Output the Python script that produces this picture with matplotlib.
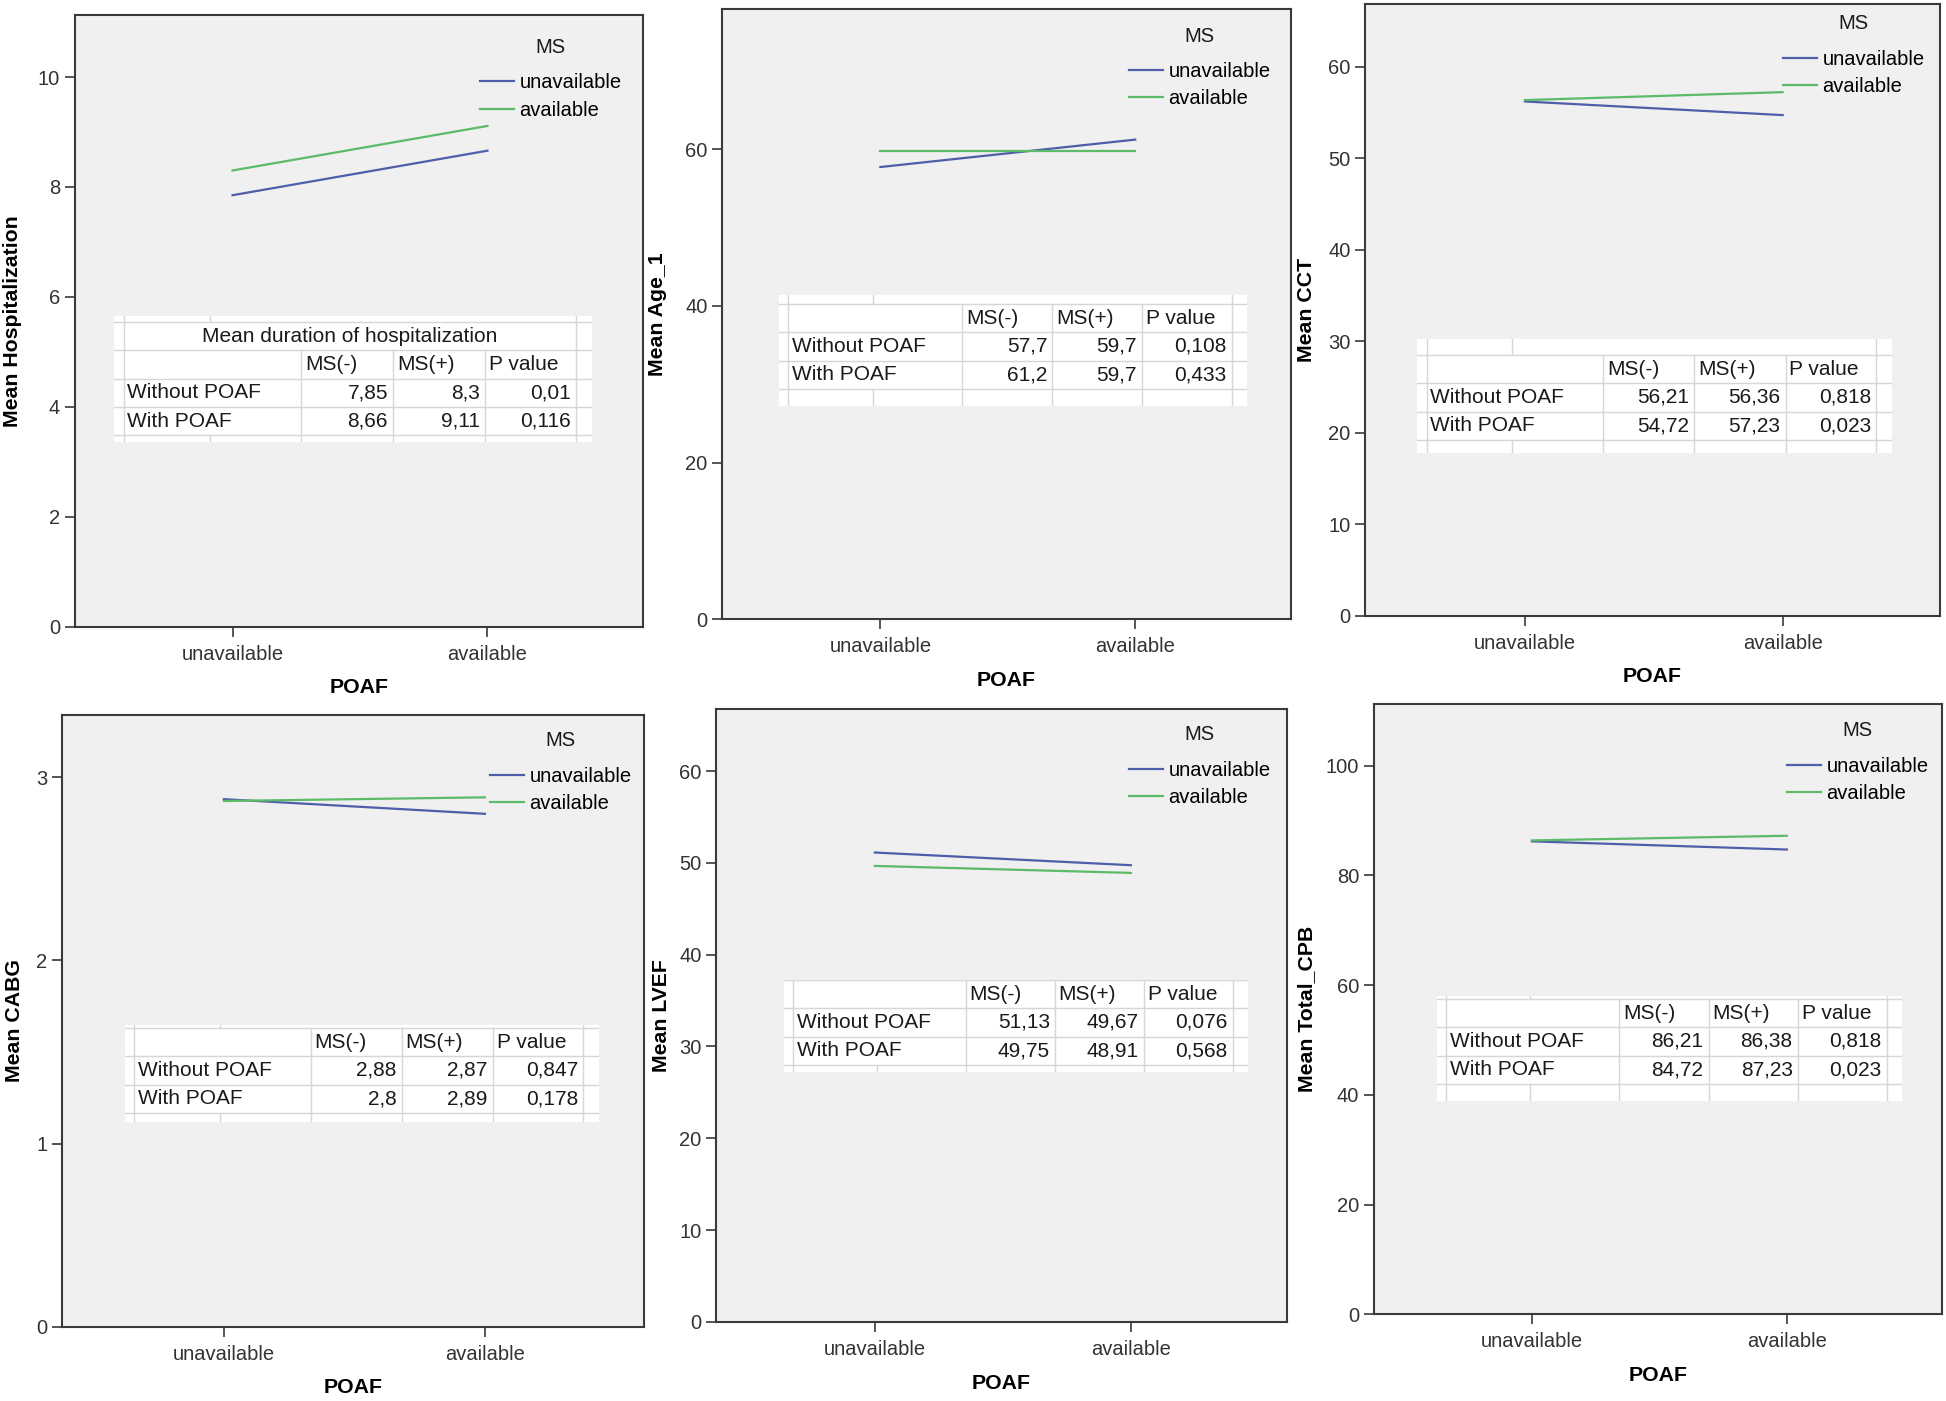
import matplotlib
matplotlib.use('Agg')
import matplotlib.pyplot as plt

plt.rcParams['font.family'] = ['Liberation Sans', 'DejaVu Sans']

# categories
poaf = ['unavailable', 'available']
ms_groups = ['unavailable', 'available']
row_names = ['Without POAF', 'With POAF']

# means for MS(-) / MS(+), first value = without POAF, second = with POAF
hosp_ms_neg = [7.85, 8.66]
hosp_ms_pos = [8.3, 9.11]
hosp_p = [0.01, 0.116]

age_ms_neg = [57.7, 61.2]
age_ms_pos = [59.7, 59.7]
age_p = [0.108, 0.433]

cct_ms_neg = [56.21, 54.72]
cct_ms_pos = [56.36, 57.23]
cct_p = [0.818, 0.023]

cabg_ms_neg = [2.88, 2.8]
cabg_ms_pos = [2.87, 2.89]
cabg_p = [0.847, 0.178]

lvef_ms_neg = [51.13, 49.75]
lvef_ms_pos = [49.67, 48.91]
lvef_p = [0.076, 0.568]

cpb_ms_neg = [86.21, 84.72]
cpb_ms_pos = [86.38, 87.23]
cpb_p = [0.818, 0.023]

ylabels = ['Mean Hospitalization', 'Mean Age_1', 'Mean CCT',
           'Mean CABG', 'Mean LVEF', 'Mean Total_CPB']
yticks = [[0, 2, 4, 6, 8, 10], [0, 20, 40, 60], [0, 10, 20, 30, 40, 50, 60],
          [0, 1, 2, 3], [0, 10, 20, 30, 40, 50, 60], [0, 20, 40, 60, 80, 100]]
ymax = [11.13, 77.9, 66.9, 3.34, 66.8, 111.3]
table_titles = ['Mean duration of hospitalization', None, None, None, None, None]
table_headers = ['MS(-)', 'MS(+)', 'P value']

panels = [(hosp_ms_neg, hosp_ms_pos, hosp_p), (age_ms_neg, age_ms_pos, age_p),
          (cct_ms_neg, cct_ms_pos, cct_p), (cabg_ms_neg, cabg_ms_pos, cabg_p),
          (lvef_ms_neg, lvef_ms_pos, lvef_p), (cpb_ms_neg, cpb_ms_pos, cpb_p)]

# layout in pixels (figure 1946 x 1401)
W, H = 1946, 1401
axes_px = [(74.5, 14.9, 642.9, 626.8), (722.3, 8.7, 1290.7, 619.3),
           (1365.2, 3.7, 1939.8, 615.6), (62.1, 714.9, 644.1, 1326.7),
           (716.1, 708.7, 1287.0, 1321.8), (1373.9, 703.7, 1942.3, 1314.3)]
ylabel_x_px = [12.4, 657.8, 1306.9, 14.9, 661.5, 1306.9]
# legend: handle start x, first entry centre y, "MS" centre y
legend_px = [(480, 80.7, 47.2), (1129, 69.5, 36), (1783, 57.1, 23.6),
             (490, 774.4, 740.9), (1129, 768.2, 734.7), (1787, 764.5, 731)]
# table: left, first row top, width, top strip, bottom strip (in rows)
table_px = [(114, 322, 478, 0.2, 0.25), (779, 304, 468, 0.33, 0.6),
            (1417, 355, 475, 0.55, 0.46), (125, 1028, 474, 0.1, 0.33),
            (784, 980, 464, 0.0, 0.25), (1437, 999, 465, 0.1, 0.6)]
row_h = 28.3

blue = '#4f5ea9'
green = '#5cbb68'
frame = '#3a3a3a'
grid_c = '#d6d6d6'


def fmt(v):
    return str(v).replace('.', ',')


def draw_table(fig, spec, title, neg, pos, pv):
    left, top, width, t_strip, b_strip = spec
    n_rows = (1 if title else 0) + 3
    total = t_strip + n_rows + b_strip
    tab_top = top - t_strip * row_h
    height = total * row_h
    tax = fig.add_axes([left / W, 1 - (tab_top + height) / H, width / W, height / H])
    tax.set_xlim(0, 1)
    tax.set_ylim(total, 0)
    tax.set_facecolor('white')
    for s in tax.spines.values():
        s.set_visible(False)
    tax.set_xticks([])
    tax.set_yticks([])

    cols = [0.02, 0.20, 0.392, 0.584, 0.776, 0.967]
    start = t_strip + (1 if title else 0)
    for c in [cols[0], cols[5]]:
        tax.plot([c, c], [0, total], color=grid_c, lw=1)
    for c in cols[2:5]:
        tax.plot([c, c], [start, total], color=grid_c, lw=1)
    tax.plot([cols[1], cols[1]], [0, t_strip], color=grid_c, lw=1)
    tax.plot([cols[1], cols[1]], [t_strip + n_rows, total], color=grid_c, lw=1)
    for k in range(n_rows + 1):
        tax.plot([0, 1], [t_strip + k] * 2, color=grid_c, lw=1)

    kw = dict(fontsize=15, color='#1a1a1a', va='center')
    if title:
        tax.text((cols[0] + cols[5]) / 2, t_strip + 0.5, title, ha='center', **kw)
    y = start + 0.5
    for j, h in enumerate(table_headers):
        tax.text(cols[2 + j] + 0.008, y, h, ha='left', **kw)
    for i, name in enumerate(row_names):
        yy = y + 1 + i
        tax.text(0.028, yy, name, ha='left', **kw)
        tax.text(cols[3] - 0.011, yy, fmt(neg[i]), ha='right', **kw)
        tax.text(cols[4] - 0.011, yy, fmt(pos[i]), ha='right', **kw)
        tax.text(cols[5] - 0.011, yy, fmt(pv[i]), ha='right', **kw)


fig = plt.figure(figsize=(W / 100, H / 100), dpi=100)
legends = []

for i, (neg, pos, pv) in enumerate(panels):
    l, t, r, b = axes_px[i]
    aw, ah = r - l, b - t
    ax = fig.add_axes([l / W, 1 - b / H, aw / W, ah / H])
    ax.set_facecolor('#f0f0f0')
    x = list(range(len(poaf)))
    ax.plot(x, neg, color=blue, lw=1.6, label=ms_groups[0])
    ax.plot(x, pos, color=green, lw=1.6, label=ms_groups[1])

    ax.set_xlim(-0.62, 1.61)
    ax.set_ylim(0, ymax[i])
    ax.set_xticks(x, poaf)
    ax.set_yticks(yticks[i])
    for s in ax.spines.values():
        s.set_color(frame)
        s.set_linewidth(1.5)
    ax.tick_params(direction='out', length=7, width=1.2, color=frame,
                   labelsize=14.5, labelcolor='#333333')
    ax.tick_params(axis='x', pad=6)

    ax.set_ylabel(ylabels[i], fontsize=15.3, fontweight='bold', va='center')
    ax.yaxis.set_label_coords((ylabel_x_px[i] - l) / aw, 0.5)
    ax.set_xlabel('POAF', fontsize=15.3, fontweight='bold', va='center')
    ax.xaxis.set_label_coords(0.5, -0.10)

    lx, ly, ty = legend_px[i]
    leg = ax.legend(loc='upper left',
                    bbox_to_anchor=((lx - l) / aw, 1 - (ly - 7.5 - t) / ah),
                    frameon=False, fontsize=14.5,
                    handlelength=1.7, handletextpad=0.25, labelspacing=0.42,
                    borderpad=0, borderaxespad=0)
    legends.append((ax, leg, ty))

    draw_table(fig, table_px[i], table_titles[i], neg, pos, pv)

# "MS" legend heading centred over each legend
fig.canvas.draw()
renderer = fig.canvas.get_renderer()
for ax, leg, ty in legends:
    bb = leg.get_window_extent(renderer)
    cx = (bb.x0 + bb.x1) / 2 / W
    fig.text(cx, 1 - ty / H, 'MS', fontsize=14.5, color='#1a1a1a',
             ha='center', va='center')

fig.savefig('out.png', dpi=100, facecolor='white')
